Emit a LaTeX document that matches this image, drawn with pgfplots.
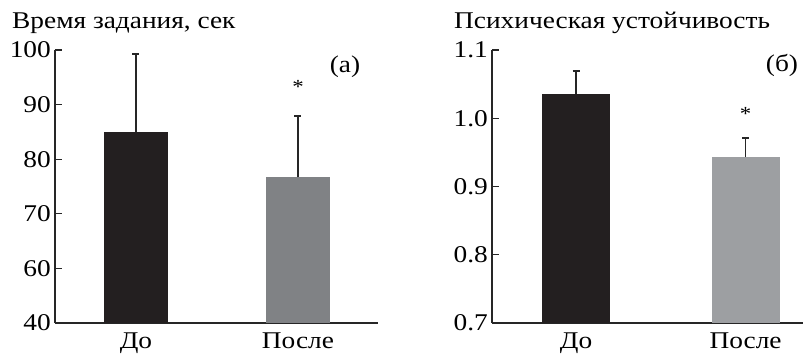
\documentclass[border=0pt]{standalone}
\usepackage{fontspec}
\setmainfont[FakeStretch=1.14]{Liberation Serif}
\usepackage{pgfplots}
\pgfplotsset{compat=1.18}
\definecolor{barblack}{HTML}{231F20}
\definecolor{bargrayA}{HTML}{808285}
\definecolor{bargrayB}{HTML}{9D9FA2}
\begin{document}
\fontsize{24pt}{26pt}\selectfont
\begin{tikzpicture}[x=1pt,y=1pt]
\useasboundingbox (0,0) rectangle (803,354);
\pgfplotsset{
  common/.style={
    scale only axis,
    anchor=south west,
    height=273pt,
    axis x line=bottom,
    axis y line=left,
    axis line style={line width=1.2pt,-, black!85},
    tick align=inside,
    major tick length=7pt,
    ytick style={line width=1.2pt, black!85},
    xtick style={draw=none},
    xtick={0,1},
    xticklabels={До,После},
    xticklabel style={anchor=base, inner sep=0pt, yshift=-18.5pt},
    yticklabel style={xshift=4pt},
    ybar,
    /pgf/number format/assume math mode=true,
    tick label style={font=\fontsize{24pt}{26pt}\selectfont},
    error bars/y dir=plus,
    error bars/y explicit,
    error bars/error bar style={line width=1.5pt, black!85},
    error bars/error mark options={rotate=90, line width=1.5pt, black!85, mark size=3.5pt},
    clip=false,
  }
}
% Left panel
\begin{axis}[common,
  at={(55pt,31pt)},
  width=323pt,
  xmin=-0.5, xmax=1.494,
  ymin=50, ymax=100,
  ytick={50,60,70,80,90,100},
  yticklabels={40,60,70,80,90,100},
  bar width=64pt,
  bar shift=0pt,
]
\addplot[fill=barblack, draw=none] coordinates {(0,85.0) +- (0,14.3)};
\addplot[fill=bargrayA, draw=none] coordinates {(1,76.7) +- (0,11.2)};
\node[anchor=base, font=\fontsize{20pt}{22pt}\selectfont] at (axis cs:1,92.0) {*};
\node at (axis cs:1.29,96.9) {(а)};
\end{axis}
% Right panel
\begin{axis}[common,
  at={(492pt,31pt)},
  width=311pt,
  xmin=-0.496, xmax=1.339,
  ymin=0.7, ymax=1.1,
  ytick={0.7,0.8,0.9,1.0,1.1},
  yticklabels={0.7,0.8,0.9,1.0,1.1},
  bar width=68pt,
  bar shift=0pt,
]
\addplot[fill=barblack, draw=none] coordinates {(0,1.0355) +- (0,0.0335)};
\addplot[fill=bargrayB, draw=none] coordinates {(1,0.943) +- (0,0.028)};
\node[anchor=base, font=\fontsize{20pt}{22pt}\selectfont] at (axis cs:1,0.9967) {*};
\node at (axis cs:1.215,1.078) {(б)};
\end{axis}
\node[anchor=base west, inner sep=0pt] at (12,325) {Время задания, сек};
\node[anchor=base west, inner sep=0pt] at (454,325) {Психическая устойчивость};
\end{tikzpicture}
\end{document}
